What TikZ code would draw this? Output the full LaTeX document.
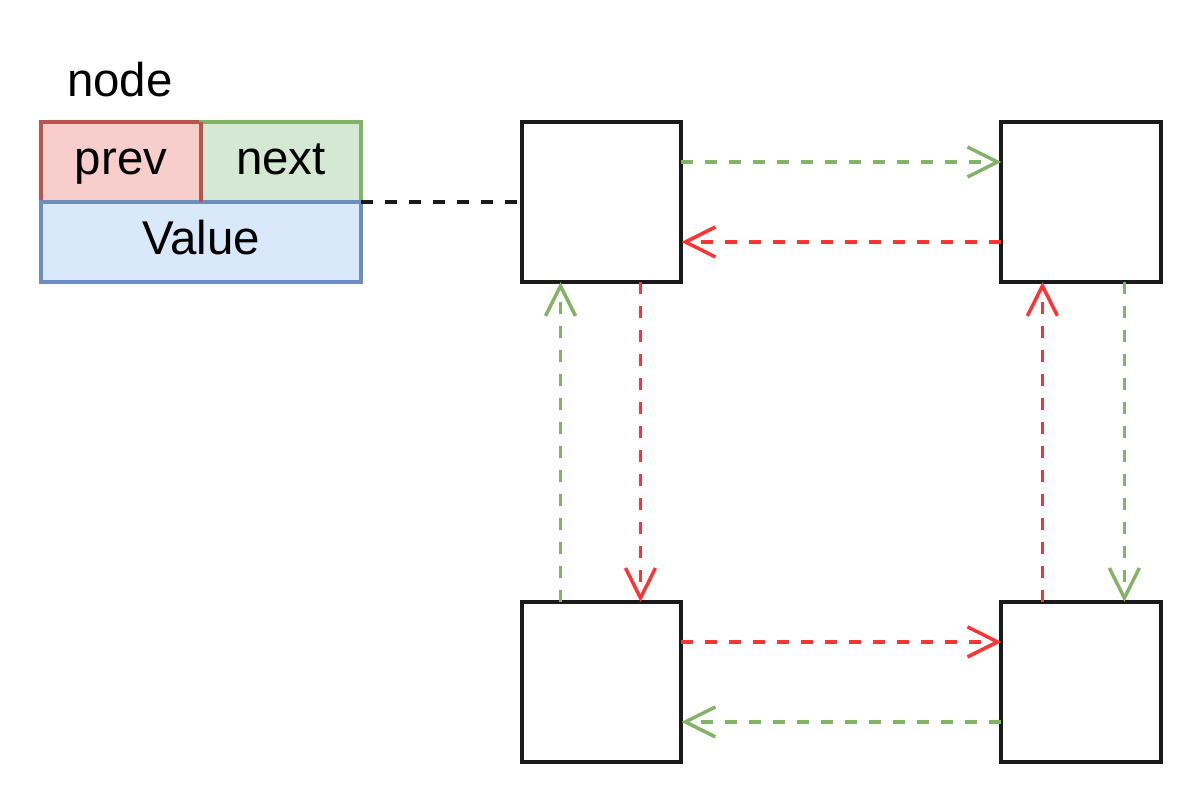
\documentclass[tikz,border=0pt]{standalone}
\usepackage{fontspec}
\setmainfont{Liberation Sans}
\usetikzlibrary{positioning,arrows.meta}
\definecolor{prevfill}{HTML}{F8CECC}
\definecolor{prevline}{HTML}{B85450}
\definecolor{nextfill}{HTML}{D5E8D4}
\definecolor{nextline}{HTML}{82B366}
\definecolor{valfill}{HTML}{DAE8FC}
\definecolor{valline}{HTML}{6C8EBF}
\definecolor{redline}{HTML}{FF3333}
\definecolor{boxline}{HTML}{1A1A1A}
\begin{document}
\begin{tikzpicture}[x=0.02cm, y=-0.02cm, line width=0.08cm, font=\fontsize{27}{31}\selectfont,
    field/.style = {draw, rectangle, minimum width=3.2cm, minimum height=1.6cm, inner sep=0pt, outer sep=0pt, text height=0.68cm, text depth=0.16cm},
    main/.style = {draw=boxline, rectangle, minimum size=3.2cm, inner sep=0pt, outer sep=0pt},
    link/.style = {line width=0.07cm, dashed, dash pattern=on 0.24cm off 0.24cm, -{Straight Barb[length=0.6cm, width=0.6cm]}}]
    \useasboundingbox (0,0) rectangle (1204,804);
    \node[field, fill=prevfill, draw=prevline] (prev) at (121,162) {prev};
    \node[field, fill=nextfill, draw=nextline, right=0pt of prev] (next) {next};
    \node[field, fill=valfill, draw=valline, minimum width=6.4cm, anchor=north west] (val) at (prev.south west) {Value};
    \draw[prevline] (prev.north east) -- (prev.south east);
    \node[anchor=base] (title) at (120,97) {node};

    \node[main] (1) at (601.5,202) {};
    \node[main] (2) [right=6.4cm of 1] {};
    \node[main] (3) [below=6.4cm of 1] {};
    \node[main] (4) [right=6.4cm of 3] {};

    \draw[line width=0.07cm, dashed, dash pattern=on 0.24cm off 0.24cm, boxline] (next.south east) -- (next.south east -| 1.west);

    \draw[link, nextline] ([yshift=-0.8cm]1.north east) -- ([yshift=-0.8cm]2.north west);
    \draw[link, redline] ([yshift=0.8cm]2.south west) -- ([yshift=0.8cm]1.south east);
    \draw[link, redline] ([xshift=-0.82cm]1.south east) -- ([xshift=-0.82cm]3.north east);
    \draw[link, nextline] ([xshift=0.78cm]3.north west) -- ([xshift=0.78cm]1.south west);
    \draw[link, nextline] ([xshift=-0.74cm]2.south east) -- ([xshift=-0.74cm]4.north east);
    \draw[link, redline] ([xshift=0.82cm]4.north west) -- ([xshift=0.82cm]2.south west);
    \draw[link, redline] ([yshift=-0.8cm]3.north east) -- ([yshift=-0.8cm]4.north west);
    \draw[link, nextline] ([yshift=0.8cm]4.south west) -- ([yshift=0.8cm]3.south east);
\end{tikzpicture}
\end{document}
